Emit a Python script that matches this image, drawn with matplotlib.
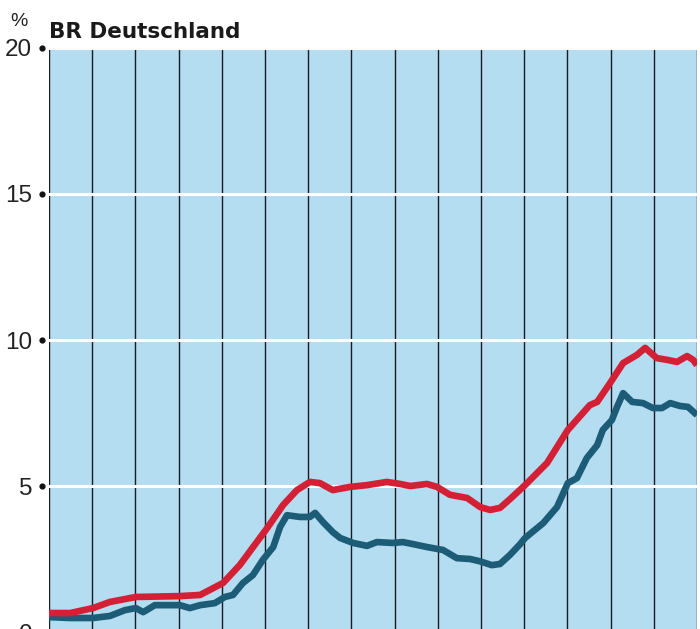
import matplotlib
matplotlib.use("Agg")
import matplotlib.pyplot as plt
import matplotlib.transforms as mtransforms

# Arbeitslosenquote, BR Deutschland (Jahresabstände als x, 0..15)
jahr_rot = [0, 0.49, 1.02, 1.41, 2.01, 3.03, 3.50, 4.03, 4.42, 5.05, 5.42, 5.74,
            6.04, 6.27, 6.57, 6.97, 7.36, 7.82, 8.13, 8.36, 8.75, 8.98, 9.28,
            9.68, 9.98, 10.21, 10.44, 10.67, 11.02, 11.53, 12.01, 12.52, 12.69,
            12.99, 13.29, 13.61, 13.80, 14.07, 14.31, 14.54, 14.77, 14.91, 15.0]
quote_rot = [0.65, 0.65, 0.82, 1.03, 1.20, 1.23, 1.27, 1.68, 2.30, 3.56, 4.35, 4.86,
             5.14, 5.10, 4.86, 4.97, 5.03, 5.14, 5.07, 5.00, 5.07, 4.97, 4.70,
             4.59, 4.28, 4.18, 4.25, 4.55, 5.03, 5.79, 6.92, 7.77, 7.88,
             8.53, 9.21, 9.49, 9.73, 9.38, 9.32, 9.25, 9.45, 9.32, 9.14]

jahr_blau = [0, 0.49, 1.02, 1.41, 1.76, 2.01, 2.18, 2.45, 3.03, 3.26, 3.50, 3.84,
             4.07, 4.26, 4.49, 4.72, 4.95, 5.19, 5.35, 5.51, 5.81, 6.04, 6.16,
             6.34, 6.57, 6.74, 7.04, 7.36, 7.59, 7.96, 8.19, 8.43, 8.75, 9.12,
             9.44, 9.75, 9.98, 10.25, 10.44, 10.67, 10.90, 11.02, 11.44, 11.76,
             12.01, 12.22, 12.45, 12.69, 12.82, 13.03, 13.15, 13.29, 13.50,
             13.75, 13.98, 14.19, 14.38, 14.61, 14.79, 15.0]
quote_blau = [0.51, 0.48, 0.48, 0.55, 0.75, 0.82, 0.68, 0.92, 0.92, 0.82, 0.92, 0.99,
              1.20, 1.27, 1.68, 1.95, 2.47, 2.91, 3.60, 4.00, 3.94, 3.94, 4.08,
              3.77, 3.42, 3.22, 3.05, 2.95, 3.08, 3.05, 3.08, 3.01, 2.91, 2.81,
              2.53, 2.50, 2.42, 2.29, 2.33, 2.64, 3.00, 3.22, 3.73, 4.28,
              5.10, 5.27, 5.96, 6.40, 6.92, 7.26, 7.71, 8.18, 7.88,
              7.84, 7.67, 7.67, 7.84, 7.74, 7.71, 7.43]

y_ticks = [0, 5, 10, 15, 20]

plt.rcParams['font.family'] = ['Liberation Sans', 'DejaVu Sans']

fig = plt.figure(figsize=(7, 6.29), dpi=100)
ax = fig.add_axes([0.07, -0.0048, 0.9257, 0.9285])
ax.set_facecolor('#b4ddf1')

ax.set_xlim(0, 15)
ax.set_ylim(0, 20)

# vertikale Jahreslinien und weisse Hilfslinien
for x in range(0, 16):
    ax.axvline(x, color='#1a1a22', lw=1.0, zorder=1)
for y in y_ticks[1:]:
    ax.axhline(y, color='white', lw=2.2, zorder=2)

ax.plot(jahr_rot, quote_rot, color='#d42035', lw=4.8, zorder=4,
        solid_capstyle='butt', solid_joinstyle='round')
ax.plot(jahr_blau, quote_blau, color='#1d5c76', lw=4.8, zorder=3,
        solid_capstyle='butt', solid_joinstyle='round')

for s in ax.spines.values():
    s.set_visible(False)

ax.set_xticks([])
ax.set_yticks(y_ticks)
ax.set_yticklabels([str(v) for v in y_ticks], fontsize=17.5, color='#222222')
ax.tick_params(axis='y', length=0, pad=12)

# Punkte neben den Zahlen
trans = mtransforms.blended_transform_factory(ax.transAxes, ax.transData)
ax.scatter([-0.0105] * len(y_ticks), y_ticks, s=12, color='#111111',
           transform=trans, clip_on=False, zorder=5)

fig.text(10 / 700, 1 - 26 / 629, '%', fontsize=14, color='#222222')
fig.text(49 / 700, 1 - 38 / 629, 'BR Deutschland', fontsize=15.5,
         fontweight='bold', family='DejaVu Sans', color='#1a1a1a')

fig.savefig('out.png', dpi=100)
